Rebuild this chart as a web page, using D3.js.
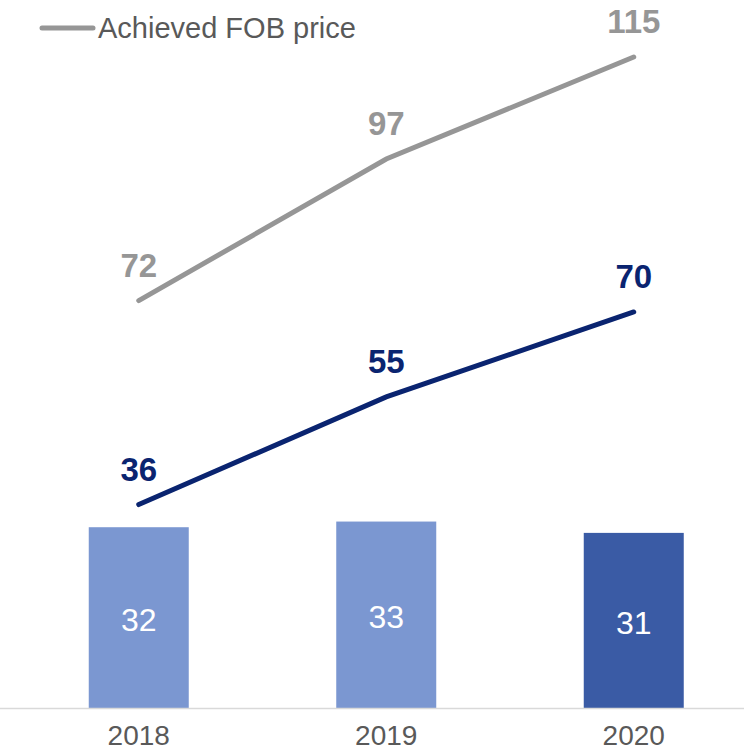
<!DOCTYPE html>
<html>
<head>
<meta charset="utf-8">
<script src="https://cdn.jsdelivr.net/npm/d3@7"></script>
<style>
  body { margin: 0; background: #fff; }
  svg { display: block; font-family: Arial, "Liberation Sans", sans-serif; }
</style>
</head>
<body>
<script>
// Data
const years = ["2018", "2019", "2020"];
const barValues = [32, 33, 31];
const fobPrice = [72, 97, 115];
const navyLine = [36, 55, 70];
const legendLabel = "Achieved FOB price";

const width = 744, height = 751;
const baseline = 708.5;

const svg = d3.select("body").append("svg")
    .attr("width", width)
    .attr("height", height);

const x = d3.scaleBand()
    .domain(years)
    .range([15, 757.5]);

const y = d3.scaleLinear()
    .domain([0, 115])
    .range([baseline, baseline - 115 * 5.665]);

const barW = 100;
const barColors = ["#7b97d1", "#7b97d1", "#3a5ba5"];
const cx = d => x(d) + x.bandwidth() / 2;

// Bars
svg.selectAll(".bar")
    .data(years)
    .enter().append("rect")
    .attr("x", d => cx(d) - barW / 2)
    .attr("y", (d, i) => y(barValues[i]))
    .attr("width", barW)
    .attr("height", (d, i) => baseline - y(barValues[i]))
    .attr("fill", (d, i) => barColors[i]);

// Bar labels
svg.selectAll(".barLabel")
    .data(years)
    .enter().append("text")
    .attr("x", d => cx(d))
    .attr("y", (d, i) => (y(barValues[i]) + baseline) / 2 + 13)
    .attr("text-anchor", "middle")
    .style("font-size", "32px")
    .style("fill", "#ffffff")
    .text((d, i) => barValues[i]);

// Axis line
svg.append("line")
    .attr("x1", 0)
    .attr("x2", width)
    .attr("y1", baseline)
    .attr("y2", baseline)
    .attr("stroke", "#d9d9d9")
    .attr("stroke-width", 1.5);

// Year labels
svg.selectAll(".year")
    .data(years)
    .enter().append("text")
    .attr("x", d => cx(d))
    .attr("y", 745)
    .attr("text-anchor", "middle")
    .style("font-size", "28px")
    .style("fill", "#595959")
    .text(d => d);

// Lines
const series = [
    { values: fobPrice, color: "#969696" },
    { values: navyLine, color: "#0a2470" }
];

const line = d3.line()
    .x((d, i) => cx(years[i]))
    .y(d => y(d));

series.forEach(s => {
    svg.append("path")
        .datum(s.values)
        .attr("d", line)
        .attr("fill", "none")
        .attr("stroke", s.color)
        .attr("stroke-width", 5)
        .attr("stroke-linecap", "round");

    svg.selectAll(null)
        .data(s.values)
        .enter().append("text")
        .attr("x", (d, i) => cx(years[i]))
        .attr("y", d => y(d) - 24)
        .attr("text-anchor", "middle")
        .style("font-size", "33px")
        .style("font-weight", "bold")
        .style("fill", s.color)
        .text(d => d);
});

// Legend
svg.append("line")
    .attr("x1", 42)
    .attr("x2", 93)
    .attr("y1", 28)
    .attr("y2", 28)
    .attr("stroke", "#969696")
    .attr("stroke-width", 5)
    .attr("stroke-linecap", "round");

svg.append("text")
    .attr("x", 98)
    .attr("y", 38)
    .style("font-size", "29px")
    .style("fill", "#595959")
    .text(legendLabel);
</script>
</body>
</html>
